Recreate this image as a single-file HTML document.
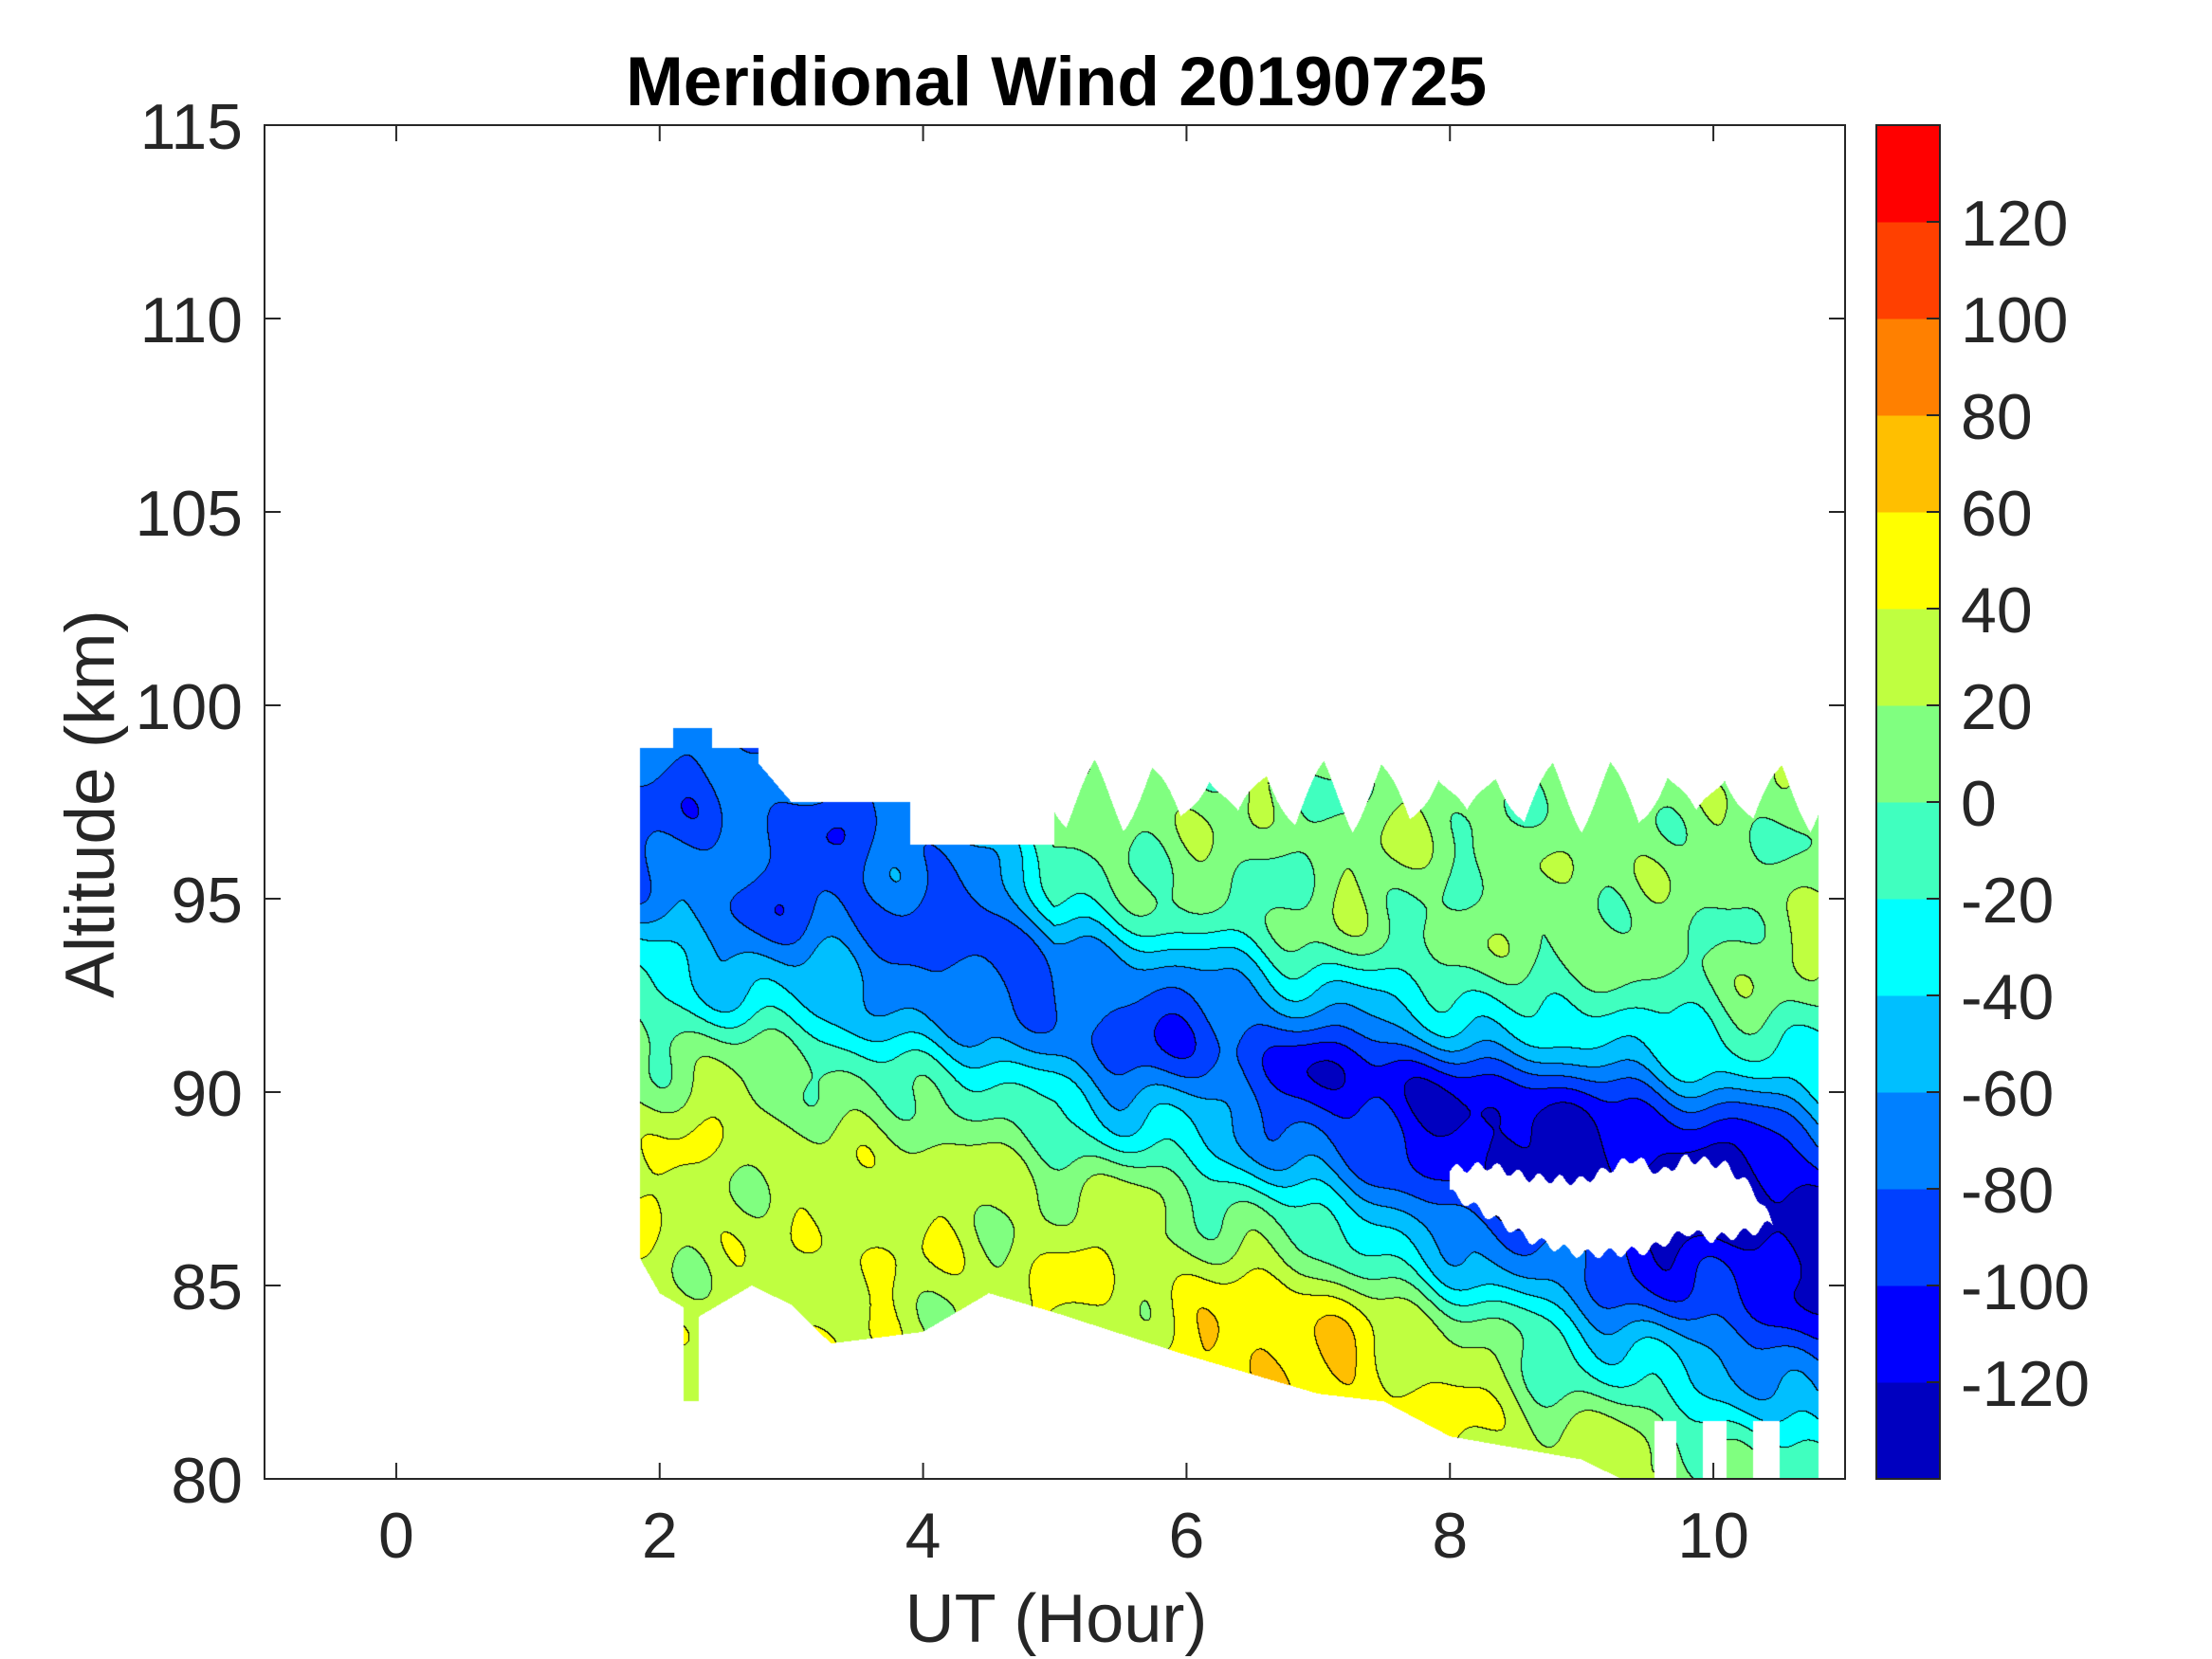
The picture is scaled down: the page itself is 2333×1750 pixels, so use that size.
<!DOCTYPE html>
<html><head><meta charset="utf-8"><style>
html,body{margin:0;padding:0;background:#fff;}
#wrap{position:relative;width:2333px;height:1750px;overflow:hidden;font-family:"Liberation Sans",Arial,sans-serif;}
canvas{position:absolute;left:279px;top:132px;}
svg{position:absolute;left:0;top:0;}
</style></head><body><div id="wrap">
<canvas id="c" width="1667" height="1428"></canvas>
<svg id="s" width="2333" height="1750" xmlns="http://www.w3.org/2000/svg"></svg>
</div>
<script>
var COLS=['#0000c0','#0000ff','#0040ff','#0080ff','#00bfff','#00ffff','#40ffbf','#80ff80','#bfff40','#ffff00','#ffbf00','#ff8000','#ff4000','#ff0000'];
function hex(c){return [parseInt(c.substr(1,2),16),parseInt(c.substr(3,2),16),parseInt(c.substr(5,2),16)];}
var RGB=COLS.map(hex);
var X0=279,X1=1946,Y0=132,Y1=1560,W=X1-X0,H=Y1-Y0;
function lerp(pts,t){if(t<=pts[0][0])return pts[0][1];for(var i=1;i<pts.length;i++){if(t<=pts[i][0]){var a=pts[i-1],b=pts[i];return a[1]+(b[1]-a[1])*(t-a[0])/(b[0]-a[0]);}}return pts[pts.length-1][1];}
function tri(x){x=x-Math.floor(x);return 1-2*Math.abs(x-0.5);}
function ztop(t){if(t<2.1)return 98.9;if(t<2.4)return 99.4;if(t<2.75)return 98.9;if(t<3.0)return 98.5-(t-2.75)*4;if(t<3.5)return 97.5;if(t<3.9)return 97.5;if(t<5)return 96.4;return 97.0+1.3*tri(t*2.3+0.3)+0.3*Math.sin(t*11);}
var BOT=[[1.8,86],[2.0,84.8],[2.3,84.2],[2.7,85],[3.0,84.5],[3.3,83.5],[4,83.8],[4.5,84.8],[5.0,84.3],[6.0,83.2],[7.0,82.2],[7.5,82],[8.0,81.1],[9.0,80.5],[9.3,80],[11,80]];
var HU=[[8.0,88.0],[8.3,88.1],[8.6,87.8],[9.0,87.7],[9.4,88.3],[9.6,87.9],[9.8,88.3],[10.1,88.1],[10.3,87.5],[10.45,86.6]];
var HL=[[8.0,87.4],[8.3,86.8],[8.6,86.2],[9.0,85.8],[9.5,85.9],[9.8,86.4],[10.0,86.2],[10.3,86.4],[10.45,86.6]];
function inHole(t,z){if(t<8.0||t>10.45)return false;var zu=lerp(HU,t)+0.12*Math.sin(t*40),zl=lerp(HL,t)+0.12*Math.sin(t*37);return z<zu&&z>zl;}
function mask(t,z){
 if(t<1.85||t>10.8)return false;
 if(z>ztop(t))return false;
 var zb=lerp(BOT,t);
 if(t>2.18&&t<2.3&&z>82&&z<85)return true;
 if(z<zb)return false;
 if(z<81.5&&((t>9.55&&t<9.72)||(t>9.92&&t<10.1)||(t>10.3&&t<10.5)))return false;
 return true;}
function field(t,z){
 var zc=t<6?95.5-1.1*(t-2):91.1-1.1*(t-6);
 var A=lerp([[2,-96],[4,-100],[6,-112],[8,-150],[10,-160]],t);
 var wu=lerp([[2,10],[3.6,9],[5,2.6],[8,2.8],[10,3.8]],t);
 var wl=lerp([[2,3.6],[5,3.2],[7,4.0],[10,5.5]],t);
 var d=z-zc,w=d>0?wu:wl;
 var Bu=10,Bl=lerp([[2,32],[5.5,34],[6.5,46],[8,46]],t);
 var sg=1/(1+Math.exp(-d*1.5));
 var B=Bl+(Bu-Bl)*sg;
 var v=A*Math.exp(-Math.pow(Math.abs(d/w),2.2))+B;
 v+=25*Math.exp(-((t-7)*(t-7)/1.2+(z-83.6)*(z-83.6)/1.5));
 v+=10*Math.sin(2.3*t+0.9*z+1)*Math.cos(1.7*z-1.3*t)+7*Math.sin(5.1*t-1.1*z)+5*Math.cos(7.7*t+1.6*z)+5*Math.sin(11*t+0.5*z);
 return v;}
var cv=document.getElementById('c'),ctx=cv.getContext('2d');
var img=ctx.createImageData(W,H),D=img.data;
var L=new Int8Array(W*H);
for(var py=0;py<H;py++){var z=115-(py+0.5)/H*35;
 for(var px=0;px<W;px++){var t=-1+(px+0.5)/W*12;var k=-1;
  if(mask(t,z)){
   if(inHole(t,z)){k=-1;}
   else{var v=field(t,z);
   if(v<-140){k=0;}
   else{k=Math.floor((v+140)/20);if(k>13)k=13;}}}
  L[py*W+px]=k;}}
for(var i=0;i<W*H;i++){var k=L[i],o=i*4;
 if(k<0){D[o]=D[o+1]=D[o+2]=255;D[o+3]=255;continue;}
 var c=RGB[k];var px=i%W,py=(i-px)/W;var edge=false;
 if(px<W-1){var r=L[i+1];if(r>=0&&r!==k)edge=true;}
 if(py<H-1){var b=L[i+W];if(b>=0&&b!==k)edge=true;}
 if(edge){D[o]=D[o+1]=D[o+2]=0;}else{D[o]=c[0];D[o+1]=c[1];D[o+2]=c[2];}
 D[o+3]=255;}
ctx.putImageData(img,0,0);
var s='';var tc='#262626';
s+='<rect x="'+X0+'" y="'+Y0+'" width="'+W+'" height="'+H+'" fill="none" stroke="#262626" stroke-width="2"/>';
for(var h=0;h<=10;h+=2){var x=X0+(h+1)*W/12;
 s+='<line x1="'+x+'" y1="'+Y1+'" x2="'+x+'" y2="'+(Y1-17)+'" stroke="#262626" stroke-width="2"/>';
 s+='<line x1="'+x+'" y1="'+Y0+'" x2="'+x+'" y2="'+(Y0+17)+'" stroke="#262626" stroke-width="2"/>';
 s+='<text x="'+x+'" y="1643" font-size="68" text-anchor="middle" fill="'+tc+'">'+h+'</text>';}
for(var a=80;a<=115;a+=5){var y=Y1-(a-80)/35*H;
 s+='<line x1="'+X0+'" y1="'+y+'" x2="'+(X0+17)+'" y2="'+y+'" stroke="#262626" stroke-width="2"/>';
 s+='<line x1="'+X1+'" y1="'+y+'" x2="'+(X1-17)+'" y2="'+y+'" stroke="#262626" stroke-width="2"/>';
 s+='<text x="256" y="'+(y+25)+'" font-size="68" text-anchor="end" fill="'+tc+'">'+a+'</text>';}
var CX0=1979,CX1=2046,bh=H/14;
for(var k=0;k<14;k++){var y=Y1-(k+1)*bh;s+='<rect x="'+CX0+'" y="'+y+'" width="'+(CX1-CX0)+'" height="'+(bh+0.5)+'" fill="'+COLS[k]+'"/>';}
s+='<rect x="'+CX0+'" y="'+Y0+'" width="'+(CX1-CX0)+'" height="'+H+'" fill="none" stroke="#262626" stroke-width="2"/>';
for(var k=1;k<14;k++){var y=Y1-k*bh,val=-140+20*k;
 s+='<line x1="'+(CX1-14)+'" y1="'+y+'" x2="'+CX1+'" y2="'+y+'" stroke="#262626" stroke-width="2"/>';
 s+='<text x="2068" y="'+(y+25)+'" font-size="68" fill="'+tc+'">'+val+'</text>';}
s+='<text x="1114" y="111" font-size="73" font-weight="bold" text-anchor="middle" fill="#000">Meridional Wind 20190725</text>';
s+='<text x="1114" y="1732" font-size="72" text-anchor="middle" fill="'+tc+'">UT (Hour)</text>';
s+='<text x="0" y="0" font-size="73" text-anchor="middle" fill="'+tc+'" transform="translate(120,848) rotate(-90)">Altitude (km)</text>';
document.getElementById('s').innerHTML=s;
</script>
</body></html>
